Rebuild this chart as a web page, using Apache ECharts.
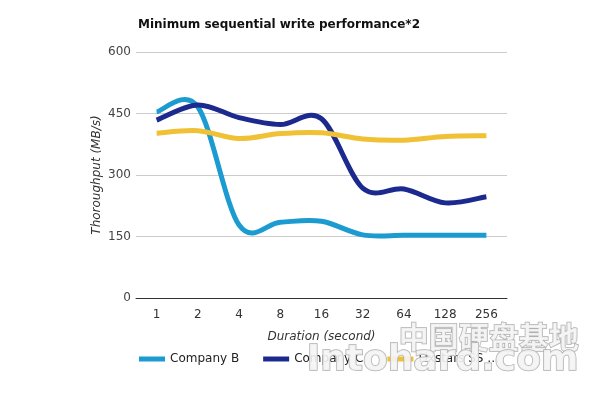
<!DOCTYPE html>
<html><head><meta charset="utf-8">
<script src="https://cdn.jsdelivr.net/npm/echarts@6/dist/echarts.min.js"></script>
<style>html,body{margin:0;padding:0;background:#fff}#c{width:592px;height:394px}</style>
</head><body><div id="c"></div>
<script>
const categories = ['1','2','4','8','16','32','64','128','256'];
const companyB = [454, 466, 178, 185, 187, 154, 153, 153, 153];
const companyC = [434, 471, 440, 423, 437, 268, 266, 232, 247];
const fixstars = [402, 408, 389, 401, 403, 388, 385, 394, 396];
const yTicks = [0, 150, 300, 450, 600];

const chart = echarts.init(document.getElementById('c'));
const font = '"DejaVu Sans", sans-serif';

// Catmull-Rom style smooth curve through the data points, positioned by the axes
function smoothSeries(name, values, color){
  return {
    name, type:'custom',
    data: values.map((v,i)=>[i, v]),
    encode:{x:0, y:1},
    itemStyle:{color},
    renderItem(params, api){
      if (params.dataIndex !== 0) return null;
      const pts = values.map((v,i)=>api.coord([i, v]));
      let d = 'M' + pts[0][0] + ' ' + pts[0][1];
      for (let i = 0; i < pts.length - 1; i++){
        const p0 = pts[Math.max(i-1,0)], p1 = pts[i], p2 = pts[i+1], p3 = pts[Math.min(i+2, pts.length-1)];
        const c1x = p1[0] + (p2[0]-p0[0])/6, c1y = p1[1] + (p2[1]-p0[1])/6;
        const c2x = p2[0] - (p3[0]-p1[0])/6, c2y = p2[1] - (p3[1]-p1[1])/6;
        d += ' C' + c1x + ' ' + c1y + ' ' + c2x + ' ' + c2y + ' ' + p2[0] + ' ' + p2[1];
      }
      return {type:'path', shape:{pathData:d}, style:{stroke:color, lineWidth:5, fill:null, lineJoin:'round'}};
    }
  };
}

chart.setOption({
  animation:false,
  title:{text:'Minimum sequential write performance*2', left:133, top:14,
    textStyle:{fontFamily:font, fontSize:12, fontWeight:'bold', color:'#111'}},
  grid:{left:136, top:52, width:371, height:246},
  xAxis:{type:'category', data:categories, boundaryGap:true,
    name:'Duration (second)', nameLocation:'middle', nameGap:33,
    nameTextStyle:{fontFamily:font, fontSize:12, fontStyle:'italic', color:'#333'},
    axisLine:{lineStyle:{color:'#333', width:1}}, axisTick:{show:false},
    axisLabel:{fontFamily:font, fontSize:12, color:'#333', margin:11}},
  yAxis:{type:'value', min:yTicks[0], max:yTicks[yTicks.length-1], interval:150,
    name:'Thoroughput (MB/s)', nameLocation:'middle', nameGap:33, nameMoveOverlap:false,
    nameTextStyle:{fontFamily:font, fontSize:12, fontStyle:'italic', color:'#333'},
    axisLine:{show:false}, axisTick:{show:false},
    splitLine:{lineStyle:{color:'#ccc'}},
    axisLabel:{fontFamily:font, fontSize:12, color:'#444', margin:5}},
  legend:{left:134, top:348, itemGap:24, itemWidth:26, itemHeight:5, icon:'rect',
    formatter: n => n === 'Fixstars SSD' ? 'Fixstars SS …' : n,
    textStyle:{fontFamily:font, fontSize:12, color:'#222'},
    data:['Company B','Company C','Fixstars SSD']},
  series:[
    smoothSeries('Company B', companyB, '#1b9bcf'),
    smoothSeries('Company C', companyC, '#1c2a8f'),
    smoothSeries('Fixstars SSD', fixstars, '#f0c035')
  ],
  graphic:[
    {type:'text', left:398, top:321, z:100, style:{text:'中国硬盘基地', font:'bold 30px "Noto Sans CJK SC"', fill:'rgba(244,244,244,0.9)', stroke:'#b0b0b0', lineWidth:1.5}},
    {type:'text', left:306, top:342, z:100, style:{text:'Intohard.com', font:'bold 36px "DejaVu Sans"', fill:'rgba(244,244,244,0.9)', stroke:'#b0b0b0', lineWidth:1.5}}
  ]
});
</script></body></html>
